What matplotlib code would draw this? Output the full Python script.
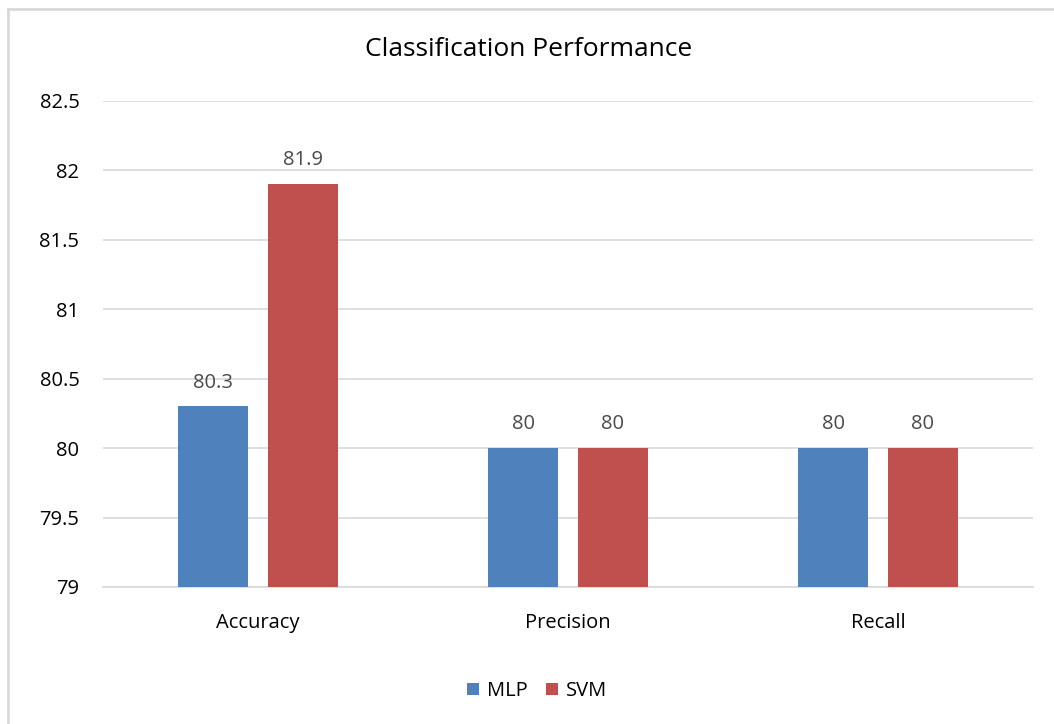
import matplotlib
matplotlib.use("Agg")
import matplotlib.pyplot as plt
import numpy as np

plt.rcParams['font.family'] = ['Open Sans', 'DejaVu Sans']

categories = ["Accuracy", "Precision", "Recall"]
mlp = [80.3, 80, 80]
svm = [81.9, 80, 80]
yticks = [79, 79.5, 80, 80.5, 81, 81.5, 82, 82.5]
ytick_labels = ["79", "79.5", "80", "80.5", "81", "81.5", "82", "82.5"]

fig = plt.figure(figsize=(10.54, 7.24), dpi=100)
ax = fig.add_axes([103/1054, 1-587/724, 930/1054, 486/724])

x = np.arange(len(categories))
w = 0.226
off = 0.145
b1 = ax.bar(x - off, [v - 79 for v in mlp], w, bottom=79, color="#4f81bd", label="MLP", zorder=3)
b2 = ax.bar(x + off, [v - 79 for v in svm], w, bottom=79, color="#c0504d", label="SVM", zorder=3)

for bars, vals in ((b1, mlp), (b2, svm)):
    for r, v in zip(bars, vals):
        ax.text(r.get_x() + r.get_width()/2, v + 0.1, f"{v:g}", ha="center", va="bottom",
                fontsize=14.5, color="#4a4a4a")

ax.set_xlim(-0.5, 2.5)
ax.set_ylim(79, 82.5)
ax.set_yticks(yticks)
ax.set_yticklabels(ytick_labels, fontsize=14.5, color="#000000")
ax.set_xticks(x)
ax.set_xticklabels(categories, fontsize=14.5, color="#000000")
ax.tick_params(length=0)
ax.tick_params(axis='x', pad=19)
ax.tick_params(axis='y', pad=17)
ax.grid(axis='y', color="#d9d9d9", linewidth=1.2, zorder=0)
for s in ("top", "right", "left"):
    ax.spines[s].set_visible(False)
ax.spines["bottom"].set_color("#d9d9d9")
ax.spines["bottom"].set_linewidth(1.2)

fig.text(529/1054, 1-49/724, "Classification Performance", ha="center", va="center", fontsize=19, color="#000000")

leg = fig.legend(handles=[b1, b2], labels=["MLP", "SVM"], loc="center", bbox_to_anchor=(537/1054, 1-691/724),
                 ncol=2, frameon=False, fontsize=14.5, handlelength=0.6, handleheight=0.6,
                 columnspacing=0.9, handletextpad=0.4)

# chart border (left and top visible)
fig.add_artist(plt.Line2D([7.5/1054, 7.5/1054], [0, 1-9/724], transform=fig.transFigure, color="#d9d9d9", linewidth=2))
fig.add_artist(plt.Line2D([7.5/1054, 1], [1-9/724, 1-9/724], transform=fig.transFigure, color="#d9d9d9", linewidth=2))

fig.savefig("out.png", dpi=100)
